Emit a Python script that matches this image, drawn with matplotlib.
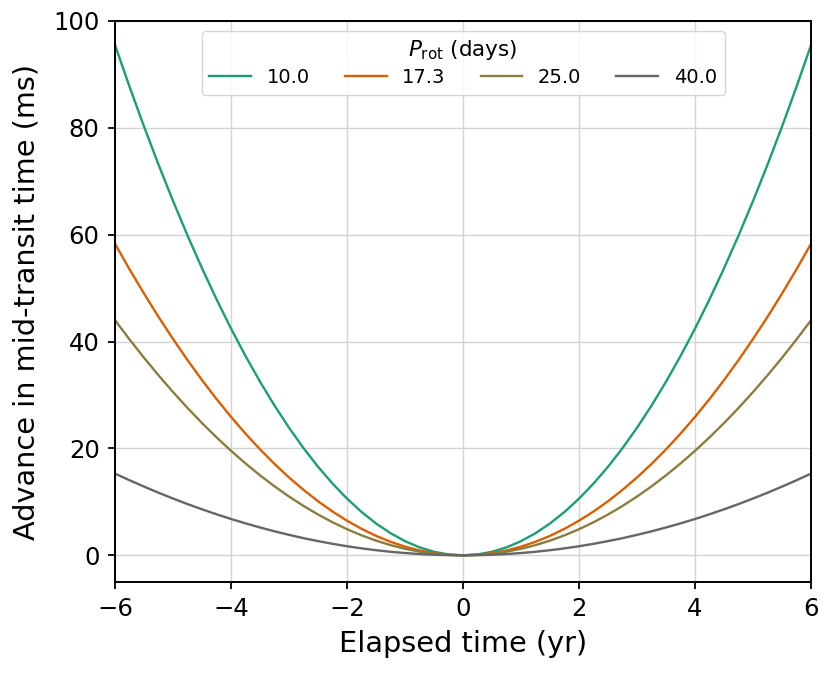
import matplotlib
matplotlib.use("Agg")
import matplotlib.pyplot as plt

# Elapsed time samples (yr), every quarter year from -6 to 6
elapsed = [-6.0, -5.75, -5.5, -5.25, -5.0, -4.75, -4.5, -4.25, -4.0, -3.75, -3.5, -3.25,
           -3.0, -2.75, -2.5, -2.25, -2.0, -1.75, -1.5, -1.25, -1.0, -0.75, -0.5, -0.25,
           0.0,
           0.25, 0.5, 0.75, 1.0, 1.25, 1.5, 1.75, 2.0, 2.25, 2.5, 2.75, 3.0,
           3.25, 3.5, 3.75, 4.0, 4.25, 4.5, 4.75, 5.0, 5.25, 5.5, 5.75, 6.0]

# Advance in mid-transit time (ms)
adv_10 = [95.5, 87.71, 80.25, 73.12, 66.32, 59.85, 53.72, 47.92, 42.44, 37.30, 32.50, 28.02,
          23.88, 20.06, 16.58, 13.43, 10.61, 8.12, 5.97, 4.14, 2.65, 1.49, 0.66, 0.17,
          0.0,
          0.17, 0.66, 1.49, 2.65, 4.14, 5.97, 8.12, 10.61, 13.43, 16.58, 20.06, 23.88,
          28.02, 32.50, 37.30, 42.44, 47.92, 53.72, 59.85, 66.32, 73.12, 80.25, 87.71, 95.5]
adv_17 = [58.3, 53.54, 48.99, 44.63, 40.49, 36.54, 32.79, 29.25, 25.91, 22.77, 19.84, 17.10,
          14.57, 12.25, 10.12, 8.20, 6.48, 4.96, 3.64, 2.53, 1.62, 0.91, 0.40, 0.10,
          0.0,
          0.10, 0.40, 0.91, 1.62, 2.53, 3.64, 4.96, 6.48, 8.20, 10.12, 12.25, 14.57,
          17.10, 19.84, 22.77, 25.91, 29.25, 32.79, 36.54, 40.49, 44.63, 48.99, 53.54, 58.3]
adv_25 = [44.0, 40.41, 36.97, 33.69, 30.56, 27.58, 24.75, 22.08, 19.56, 17.19, 14.97, 12.91,
          11.00, 9.24, 7.64, 6.19, 4.89, 3.74, 2.75, 1.91, 1.22, 0.69, 0.31, 0.08,
          0.0,
          0.08, 0.31, 0.69, 1.22, 1.91, 2.75, 3.74, 4.89, 6.19, 7.64, 9.24, 11.00,
          12.91, 14.97, 17.19, 19.56, 22.08, 24.75, 27.58, 30.56, 33.69, 36.97, 40.41, 44.0]
adv_40 = [15.3, 14.05, 12.86, 11.71, 10.63, 9.59, 8.61, 7.68, 6.80, 5.98, 5.21, 4.49,
          3.83, 3.21, 2.66, 2.15, 1.70, 1.30, 0.96, 0.66, 0.43, 0.24, 0.11, 0.03,
          0.0,
          0.03, 0.11, 0.24, 0.43, 0.66, 0.96, 1.30, 1.70, 2.15, 2.66, 3.21, 3.83,
          4.49, 5.21, 5.98, 6.80, 7.68, 8.61, 9.59, 10.63, 11.71, 12.86, 14.05, 15.3]

periods = ["10.0", "17.3", "25.0", "40.0"]
series = [adv_10, adv_17, adv_25, adv_40]
colors = ["#1b9e77", "#d95f02", "#8c7d3e", "#666666"]

fig, ax = plt.subplots(figsize=(8.31, 6.76), dpi=100)
fig.subplots_adjust(left=0.1384, right=0.976, top=0.969, bottom=0.139)

for label, vals, c in zip(periods, series, colors):
    ax.plot(elapsed, vals, color=c, linewidth=1.7, label=label)

ax.set_xlim(-6, 6)
ax.set_ylim(-5, 100)
ax.set_xticks([-6, -4, -2, 0, 2, 4, 6])
ax.set_yticks([0, 20, 40, 60, 80, 100])
ax.grid(True, color="#d4d4d4", linewidth=1)
ax.set_axisbelow(True)

ax.tick_params(labelsize=17.5, width=1.3, length=5, pad=6)
for s in ax.spines.values():
    s.set_linewidth(1.4)

ax.set_xlabel("Elapsed time (yr)", fontsize=20.7, labelpad=6)
ax.set_ylabel("Advance in mid-transit time (ms)", fontsize=20.7, labelpad=9)

leg = ax.legend(title=r"$P_{\rm rot}$ (days)", loc="upper center", ncol=4,
                fontsize=14, title_fontsize=15.5, handlelength=2.15,
                columnspacing=1.8, borderaxespad=0.5, labelspacing=0.3)

plt.savefig("out.png")
